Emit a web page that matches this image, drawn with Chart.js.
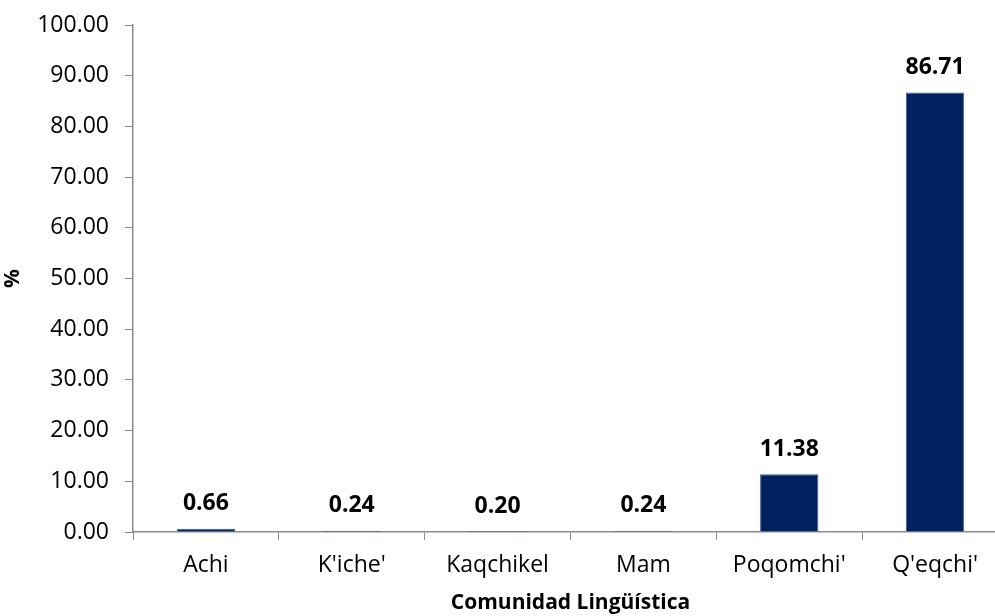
<!DOCTYPE html>
<html>
<head>
<meta charset="utf-8">
<script src="https://cdn.jsdelivr.net/npm/chart.js@4"></script>
<style>
  html, body { margin: 0; padding: 0; overflow: hidden; background: #fff; }
  #wrap { width: 1008px; height: 616px; }
</style>
</head>
<body>
<div id="wrap"><canvas id="myChart"></canvas></div>
<script>
const labels = ['Achi', "K'iche'", 'Kaqchikel', 'Mam', "Poqomchi'", "Q'eqchi'"];
const values = [0.66, 0.24, 0.20, 0.24, 11.38, 86.71];
const yTicks = [0, 10, 20, 30, 40, 50, 60, 70, 80, 90, 100];

const fontFam = "'Open Sans', 'Liberation Sans', sans-serif";
const axisColor = '#8c8c8c';

// draws the value above each bar
const valueLabels = {
  id: 'valueLabels',
  afterDatasetsDraw(chart) {
    const ctx = chart.ctx;
    const meta = chart.getDatasetMeta(0);
    ctx.save();
    ctx.font = 'bold 23px ' + fontFam;
    ctx.fillStyle = '#000';
    ctx.textAlign = 'center';
    ctx.textBaseline = 'middle';
    meta.data.forEach((bar, i) => {
      ctx.fillText(values[i].toFixed(2), bar.x, bar.y - 25);
    });
    ctx.restore();
  }
};

const data = {
  labels: labels,
  datasets: [{
    data: values,
    backgroundColor: '#00205f',
    borderColor: '#4a5f8c',
    borderWidth: 1,
    barPercentage: 0.4,
    categoryPercentage: 1.0,
  }]
};

const config = {
  type: 'bar',
  data: data,
  options: {
    responsive: true,
    maintainAspectRatio: false,
    animation: false,
    layout: { padding: { top: 25, left: 0, right: 0, bottom: 0 } },
    plugins: {
      legend: { display: false },
      tooltip: { enabled: false },
    },
    scales: {
      x: {
        grid: {
          offset: true,
          drawOnChartArea: false,
          tickLength: 8,
          color: axisColor,
        },
        border: { color: axisColor, width: 1.5 },
        ticks: {
          color: '#000',
          padding: 12,
          font: { family: fontFam, size: 23 },
        },
        title: {
          display: true,
          text: 'Comunidad Lingüística',
          color: '#000',
          font: { family: fontFam, size: 21, weight: 'bold' },
          padding: { top: 0, bottom: 0 },
        },
        afterFit: s => { s.height = 84; s.paddingLeft = 0; s.paddingRight = 0; },
      },
      y: {
        min: 0,
        max: 100,
        afterBuildTicks: s => { s.ticks = yTicks.map(v => ({ value: v })); },
        grid: {
          drawOnChartArea: false,
          tickLength: 8,
          color: axisColor,
        },
        border: { color: axisColor, width: 1.5 },
        ticks: {
          color: '#000',
          padding: 16,
          font: { family: fontFam, size: 23 },
          callback: v => Number(v).toFixed(2),
        },
        title: {
          display: true,
          text: '%',
          color: '#000',
          font: { family: fontFam, size: 21, weight: 'bold' },
          padding: { top: 0, bottom: 0 },
        },
        afterFit: s => { s.width = 133; s.paddingTop = 0; s.paddingBottom = 0; },
      },
    }
  },
  plugins: [valueLabels],
};

const myChart = new Chart(
  document.getElementById('myChart'),
  config
);
</script>
</body>
</html>
